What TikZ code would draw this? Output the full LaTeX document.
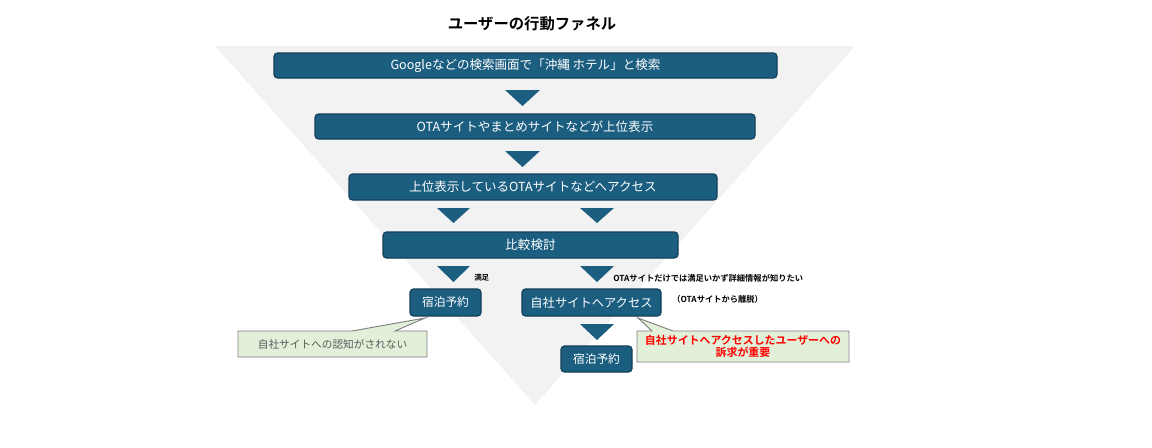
\documentclass[tikz,border=0pt]{standalone}
\usepackage{fontspec}
\setmainfont{Noto Sans CJK JP}
\newfontfamily\jpbold{Noto Sans CJK JP Bold}
\usetikzlibrary{positioning}
\definecolor{boxblue}{HTML}{1B5E80}
\definecolor{boxedge}{HTML}{123F57}
\definecolor{funnelgray}{HTML}{F2F2F2}
\definecolor{calloutgreen}{HTML}{E2F0D9}
\definecolor{calloutedge}{HTML}{7F7F7F}
\definecolor{graytext}{HTML}{595959}
\tikzset{
  stepbox/.style={draw=boxedge, line width=0.8pt, fill=boxblue, rounded corners=2.5pt,
    text=white, font=\fontsize{9.4pt}{10pt}\selectfont, inner sep=0pt, align=center},
  downtri/.style={fill=boxblue, draw=none},
  callout/.style={fill=calloutgreen, draw=calloutedge, line width=0.7pt},
  smalllabel/.style={font=\jpbold\fontsize{6.2pt}{7pt}\selectfont, text=black, inner sep=0pt, anchor=west},
}
\begin{document}
\begin{tikzpicture}[x=0.75pt,y=-0.75pt]
\useasboundingbox (0,0) rectangle (1152,447);
% funnel
\fill[funnelgray] (215,46) -- (855,46) -- (535,405) -- cycle;
% title
\node[font=\jpbold\fontsize{11.5pt}{13pt}\selectfont] (title) at (532,24) {ユーザーの行動ファネル};
% boxes
\node[stepbox, minimum width=377.25pt, minimum height=18.75pt] (b1) at (525.5,65.5) {Googleなどの検索画面で「沖縄 ホテル」と検索};
\node[stepbox, minimum width=330pt, minimum height=18.75pt] (b2) at (535,126.5) {OTAサイトやまとめサイトなどが上位表示};
\node[stepbox, minimum width=276pt, minimum height=19.5pt] (b3) at (533,187) {上位表示しているOTAサイトなどへアクセス};
\node[stepbox, minimum width=221.25pt, minimum height=19.5pt] (b4) at (530.5,245) {比較検討};
\node[stepbox, minimum width=53.25pt, minimum height=20.25pt, font=\fontsize{8.8pt}{10pt}\selectfont] (b5) at (445.5,302.5) {宿泊予約};
\node[stepbox, minimum width=104.25pt, minimum height=20.25pt, font=\fontsize{9.2pt}{10pt}\selectfont] (b6) at (591.5,302.5) {自社サイトへアクセス};
\node[stepbox, minimum width=53.25pt, minimum height=19.5pt, font=\fontsize{8.8pt}{10pt}\selectfont] (b7) at (596.5,359) {宿泊予約};
% down triangles
\fill[downtri] (505,90) -- (540,90) -- (522.5,106) -- cycle;
\fill[downtri] (505,151) -- (540,151) -- (522.5,167) -- cycle;
\fill[downtri] (437,208) -- (470,208) -- (453.5,223) -- cycle;
\fill[downtri] (580,208) -- (614,208) -- (597,223) -- cycle;
\fill[downtri] (437,266) -- (470,266) -- (453.5,282) -- cycle;
\fill[downtri] (580,266) -- (614,266) -- (597,282) -- cycle;
\fill[downtri] (580,324) -- (614,324) -- (597,340) -- cycle;
% labels
\node[smalllabel, font=\jpbold\fontsize{5.6pt}{6pt}\selectfont] (l1) at (474,278) {満足};
\node[smalllabel] (l2) at (613,278) {OTAサイトだけでは満足いかず詳細情報が知りたい};
\node[smalllabel] (l3) at (672,299) {（OTAサイトから離脱）};
% callouts
\path[callout] (238,331) -- (352,331) -- (425,318) -- (395,331) -- (427,331) -- (427,357) -- (238,357) -- cycle;
\node[text=graytext, font=\fontsize{8pt}{9pt}\selectfont] (c1) at (332.5,344) {自社サイトへの認知がされない};
\path[callout] (637,331) -- (652,331) -- (638,318) -- (673,331) -- (849,331) -- (849,362) -- (637,362) -- cycle;
\node[text=red, align=center, font=\jpbold\fontsize{8.2pt}{9.5pt}\selectfont] (c2) at (743,346.5) {自社サイトへアクセスしたユーザーへの\\訴求が重要};
\end{tikzpicture}
\end{document}
